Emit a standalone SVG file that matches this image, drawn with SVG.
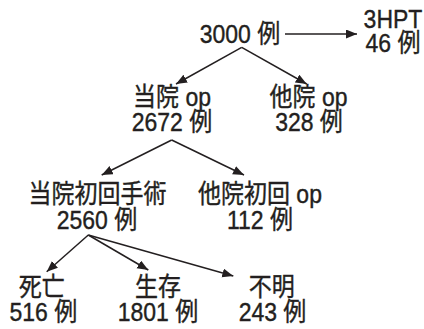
<svg xmlns="http://www.w3.org/2000/svg" width="424" height="329" viewBox="0 0 424 329">
<style>
text{font-family:"Liberation Sans","Noto Sans CJK JP",sans-serif;font-size:23px;fill:#231f20;stroke:#231f20;stroke-width:0.35;text-anchor:middle}
.c line{stroke:#231f20;stroke-width:1.5;fill:none}
</style>
<defs>
<marker id="ah" markerUnits="userSpaceOnUse" markerWidth="12" markerHeight="10" refX="11" refY="4.5" orient="auto">
<path d="M0,0 L11,4.5 L0,9 z" fill="#231f20"/>
</marker>
</defs>
<rect width="424" height="329" fill="#fff"/>
<g class="c" id="connectors">
<line x1="285" y1="34" x2="357" y2="34" marker-end="url(#ah)"/>
<line x1="241.7" y1="47.3" x2="176" y2="84" marker-end="url(#ah)"/>
<line x1="241.7" y1="47.3" x2="306.7" y2="84" marker-end="url(#ah)"/>
<line x1="171.7" y1="140" x2="101.7" y2="175" marker-end="url(#ah)"/>
<line x1="171.7" y1="140" x2="244" y2="175" marker-end="url(#ah)"/>
<line x1="88.3" y1="235" x2="46.7" y2="271.7" marker-end="url(#ah)"/>
<line x1="88.3" y1="235" x2="148.3" y2="270" marker-end="url(#ah)"/>
<line x1="88.3" y1="235" x2="233.3" y2="276" marker-end="url(#ah)"/>
</g>
<g id="n3000"><text transform="matrix(1,0,0,1.15,240,42.5)">3000 例</text></g>
<g id="n3hpt"><text transform="matrix(1,0,0,1.15,393,28.3)">3HPT</text><text transform="matrix(1,0,0,1.15,393,52)">46 例</text></g>
<g id="ntoin"><text transform="matrix(1,0,0,1.15,172,106)">当院 op</text><text transform="matrix(1,0,0,1.15,172,131)">2672 例</text></g>
<g id="ntain"><text transform="matrix(1,0,0,1.15,308.5,106)">他院 op</text><text transform="matrix(1,0,0,1.15,309,131)">328 例</text></g>
<g id="nshokai"><text transform="matrix(1,0,0,1.15,97.5,203)">当院初回手術</text><text transform="matrix(1,0,0,1.15,97,229)">2560 例</text></g>
<g id="ntashokai"><text transform="matrix(1,0,0,1.15,260,203)">他院初回 op</text><text transform="matrix(1,0,0,1.15,260,229)">112 例</text></g>
<g id="nshibo"><text transform="matrix(1,0,0,1.15,41.7,296)">死亡</text><text transform="matrix(1,0,0,1.15,43.3,321)">516 例</text></g>
<g id="nseizon"><text transform="matrix(1,0,0,1.15,158,296)">生存</text><text transform="matrix(1,0,0,1.15,158,321)">1801 例</text></g>
<g id="nfumei"><text transform="matrix(1,0,0,1.15,271.7,296)">不明</text><text transform="matrix(1,0,0,1.15,272.5,321)">243 例</text></g>
</svg>
